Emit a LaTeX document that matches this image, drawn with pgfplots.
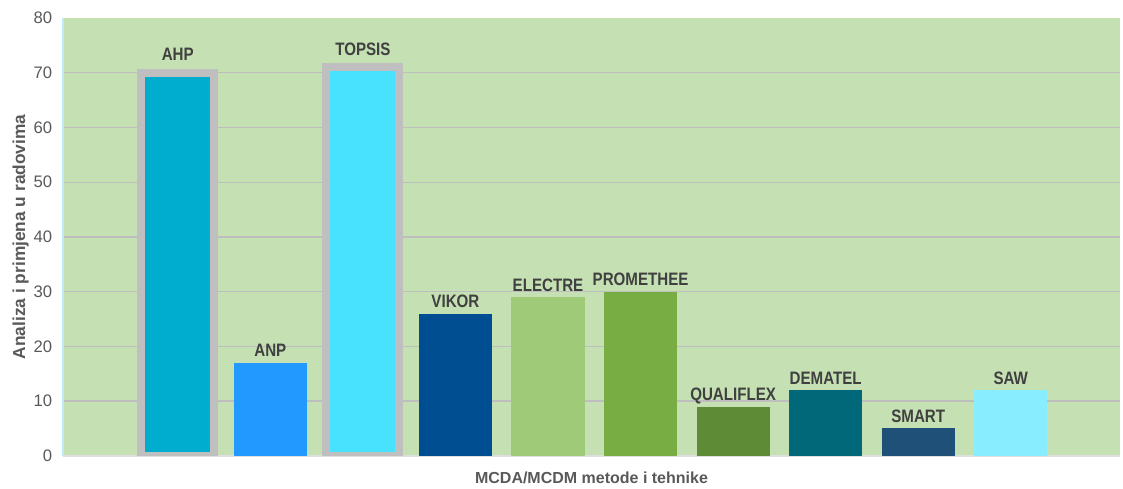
\documentclass[border=0pt]{standalone}
\usepackage{fontspec}
\setmainfont{Liberation Sans}
\newfontfamily\narrow{Liberation Sans}[FakeStretch=0.84]
\usepackage{pgfplots}
\pgfplotsset{compat=1.18}

\definecolor{bgcol}{HTML}{C5E0B3}
\definecolor{gridcol}{HTML}{BEBEBE}
\definecolor{labcol}{HTML}{404040}
\definecolor{tickcol}{HTML}{595959}
\definecolor{bordcol}{HTML}{BFBFBF}
\definecolor{cAHP}{HTML}{00ADCF}
\definecolor{cANP}{HTML}{2299FF}
\definecolor{cTOPSIS}{HTML}{48E2FF}
\definecolor{cVIKOR}{HTML}{004E92}
\definecolor{cELECTRE}{HTML}{9FCB78}
\definecolor{cPROM}{HTML}{77AD43}
\definecolor{cQUAL}{HTML}{5D8B36}
\definecolor{cDEMA}{HTML}{006879}
\definecolor{cSMART}{HTML}{1F5078}
\definecolor{cSAW}{HTML}{87EDFF}

\begin{document}
\begin{tikzpicture}
\begin{axis}[
    scale only axis,
    width=793pt, height=328.5pt,
    xmin=-1.24, xmax=10.18,
    ymin=0, ymax=80,
    ytick={0,10,...,70},
    extra y ticks={80},
    extra y tick style={grid=none},
    xtick=\empty,
    ybar, bar width=0.79, bar shift=0pt,
    axis background/.style={fill=bgcol},
    ymajorgrids, grid style={line width=1pt, gridcol},
    major tick length=0pt,
    axis x line*=bottom, axis y line*=left,
    x axis line style={-, line width=1.2pt, draw=gray!25},
    y axis line style={-, line width=0.8pt, draw=cyan!25},
    /pgf/number format/assume math mode=true,
    yticklabel style={font=\fontsize{12.5}{14}\selectfont, text=tickcol, inner sep=0pt, xshift=-8pt},
    point meta=explicit symbolic,
    nodes near coords={\pgfplotspointmeta},
    every node near coord/.append style={font=\narrow\bfseries\fontsize{13.5}{15}\selectfont,
        text=labcol, anchor=base, inner sep=0pt, yshift=4.5pt},
    xlabel={MCDA/MCDM metode i tehnike},
    xlabel style={font=\bfseries\fontsize{12}{14}\selectfont, text=tickcol,
        at={(axis description cs:0.5,0)}, anchor=center, yshift=-16.5pt},
    ylabel={Analiza i primjena u radovima},
    ylabel style={font=\bfseries\fontsize{13}{15}\selectfont, text=tickcol,
        at={(axis description cs:-0.028,0.5)}, anchor=south, rotate=0},
]
\addplot[fill=cAHP, draw=bordcol, line width=6pt,
    every node near coord/.append style={yshift=5pt}] coordinates {(0,70)[AHP]};
\addplot[fill=cANP, draw=none] coordinates {(1,17)[ANP]};
\addplot[fill=cTOPSIS, draw=bordcol, line width=6pt,
    every node near coord/.append style={yshift=4.5pt}] coordinates {(2,71)[TOPSIS]};
\addplot[fill=cVIKOR, draw=none] coordinates {(3,26)[VIKOR]};
\addplot[fill=cELECTRE, draw=none] coordinates {(4,29)[ELECTRE]};
\addplot[fill=cPROM, draw=none] coordinates {(5,30)[PROMETHEE]};
\addplot[fill=cQUAL, draw=none] coordinates {(6,9)[QUALIFLEX]};
\addplot[fill=cDEMA, draw=none] coordinates {(7,12)[DEMATEL]};
\addplot[fill=cSMART, draw=none] coordinates {(8,5)[SMART]};
\addplot[fill=cSAW, draw=none] coordinates {(9,12)[SAW]};
\coordinate (ll) at (rel axis cs:0,0);
\coordinate (ur) at (rel axis cs:1,1);
\end{axis}
\path (ll) ++(-47.25pt,-22.5pt);
\path (ur) ++(2.25pt,13.5pt);
\end{tikzpicture}
\end{document}
